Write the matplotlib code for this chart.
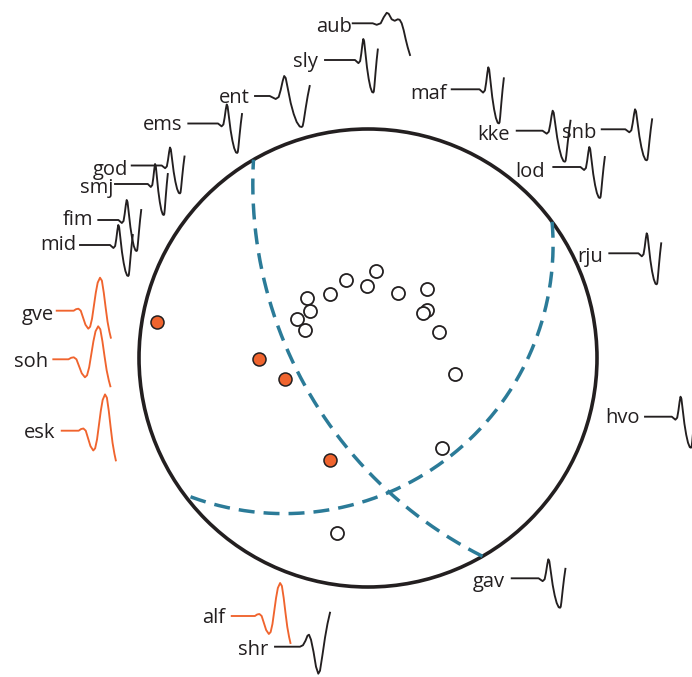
import numpy as np
import matplotlib.pyplot as plt
from matplotlib.patches import Circle

# first motions on the focal sphere (x east, y north, in units of the sphere radius)
open_x = [-0.268, -0.253, -0.311, -0.275, -0.166, -0.097, 0.034, -0.004,
          0.130, 0.256, 0.256, 0.239, 0.311, 0.380, 0.322, -0.134]
open_y = [0.261, 0.207, 0.170, 0.122, 0.278, 0.341, 0.380, 0.314,
          0.285, 0.300, 0.210, 0.195, 0.115, -0.070, -0.394, -0.763]
filled_x = [-0.920, -0.475, -0.362, -0.165]
filled_y = [0.159, -0.004, -0.093, -0.445]

# nodal planes (strike, dip in degrees)
plane_strike = [150.0, 53.5]
plane_dip = [56.7, 31.6]

# station names and first-motion polarity
stations = ["aub", "sly", "ent", "ems", "god", "smj", "fim", "mid", "maf", "kke",
            "snb", "lod", "rju", "hvo", "gav", "shr", "alf", "gve", "soh", "esk"]
station_shape = ["aub", "black", "black", "black", "black", "black", "black", "black", "black", "black",
                 "black", "black", "black", "black", "black", "shr", "orange", "orange", "orange", "orange"]

# waveform shapes (px, y up)
black_t = [0, 3, 6, 9, 12, 14, 16, 17.5, 19, 21, 24, 27, 30, 33, 35, 36, 37, 39, 41, 43]
black_a = [0, 0, -1.5, -3, -1, 6, 15, 20, 18, 8, -7, -18, -26, -30.5, -31, -30, -25, -12, 0, 10]
orange_t = [0, 2.5, 5, 7.5, 10, 12.5, 15.5, 17.5, 19.5, 21.5, 23.5, 25.5, 28, 30, 32, 34, 36, 38, 39.5]
orange_a = [0, 1.5, 2, 0, -7, -14, -18, -16, -8, 5, 18, 28, 33, 30, 18, 3, -11, -21, -27]
aub_t = [0, 4, 8, 11, 14, 16, 19, 22, 25, 27, 29, 31, 33, 35, 37.3]
aub_a = [0, -1.5, 0, 6, 10.5, 9.5, 4, 2.5, 4, 3.5, 0, -7, -16, -24, -31.7]
shr_t = [0, 3, 5.5, 7.5, 9, 11, 13.5, 16, 18.3, 20, 22.5, 25, 27.5, 30]
shr_a = [0, 1.5, 6, 11, 12, 7, -5, -20, -27, -24, -8, 9, 23, 34]

shapes = {"black": (black_t, black_a), "orange": (orange_t, orange_a),
          "aub": (aub_t, aub_a), "shr": (shr_t, shr_a)}

# layout (pixels): label right edge / baseline, lead start, wiggle start, trace level, scales
label_x = [351.7, 318.3, 249.3, 182.7, 127.7, 113.3, 93.3, 76.7, 446.7, 510,
           596.7, 545, 603.3, 640, 505, 268.3, 225, 54, 48, 55]
label_y = [32, 67, 103.3, 130, 175, 192.7, 225, 250, 99.3, 140,
           138.3, 176.7, 261.7, 423.3, 586.7, 655, 623, 320, 367.3, 438.3]
lead_x = [352.7, 325, 255, 188.3, 131.7, 115, 98.3, 80, 451.7, 516.7,
          601.7, 553.3, 609.3, 645, 511.7, 275, 231.7, 56.7, 53.3, 61.7]
wig_x = [372.7, 353.3, 266.7, 216.2, 160, 146.3, 116.7, 108.3, 477.6, 540.4,
         623.3, 578.6, 636.7, 670, 536.6, 300, 254.9, 73.7, 68.5, 78.7]
trace_y = [23.3, 60, 96, 123.5, 165.5, 184, 220, 245, 89.3, 130.7,
           129.3, 167, 253.3, 416.7, 578.3, 646.7, 616, 310.7, 359.3, 430.7]
scale_t = [1, 0.57, 1, 0.6, 0.57, 0.5, 0.57, 0.57, 0.61, 0.7,
           0.67, 0.61, 0.57, 0.6, 0.67, 1, 0.9, 0.94, 1.06, 0.94]
scale_a = [1, 1.05, 1, 0.95, 0.9, 1, 1, 1, 1.1, 1,
           1, 1, 1, 1, 0.95, 1, 1, 1, 1, 1.1]

CX, CY, R = 368, 358, 229
INK = "#231f20"
ORANGE = "#F0642E"
TEAL = "#2B7B98"


def wulff_plane(strike, dip, n=300):
    s = np.radians(strike)
    d = np.radians(dip)
    dd = s + np.pi / 2
    lam = np.linspace(0, np.pi, n)
    sv = np.array([np.sin(s), np.cos(s), 0.0])
    dv = np.array([np.cos(d) * np.sin(dd), np.cos(d) * np.cos(dd), -np.sin(d)])
    v = np.outer(np.cos(lam), sv) + np.outer(np.sin(lam), dv)
    plunge = np.arcsin(np.clip(-v[:, 2], -1, 1))
    trend = np.arctan2(v[:, 0], v[:, 1])
    r = np.tan((np.pi / 2 - plunge) / 2)
    return r * np.sin(trend), r * np.cos(trend)


fig = plt.figure(figsize=(6.92, 6.77), dpi=100)
ax = fig.add_axes([0, 0, 1, 1])
ax.set_xlim(0, 692)
ax.set_ylim(677, 0)
ax.axis("off")

ax.add_patch(Circle((CX, CY), R, fill=False, lw=2.6, ec=INK, zorder=2))

for st, dp in zip(plane_strike, plane_dip):
    x, y = wulff_plane(st, dp)
    ax.plot(CX + R * x, CY - R * y, color=TEAL, lw=2.5, dashes=(4.6, 2.6), zorder=3)

ax.scatter(CX + R * np.array(open_x), CY - R * np.array(open_y), s=88,
           facecolor="white", edgecolor=INK, lw=1.3, zorder=4)
ax.scatter(CX + R * np.array(filled_x), CY - R * np.array(filled_y), s=88,
           facecolor=ORANGE, edgecolor=INK, lw=1.1, zorder=4)

for i, name in enumerate(stations):
    kind = station_shape[i]
    col = ORANGE if kind == "orange" else INK
    t, a = shapes[kind]
    xs = [lead_x[i]] + [wig_x[i] + scale_t[i] * v for v in t]
    ys = [trace_y[i]] + [trace_y[i] - scale_a[i] * v for v in a]
    ax.plot(xs, ys, color=col, lw=1.35, solid_joinstyle="round", zorder=5)
    ax.text(label_x[i], label_y[i], name, ha="right", va="baseline",
            fontsize=14.5, family="Open Sans", color=INK, zorder=6)

fig.savefig("out.png", dpi=100)
